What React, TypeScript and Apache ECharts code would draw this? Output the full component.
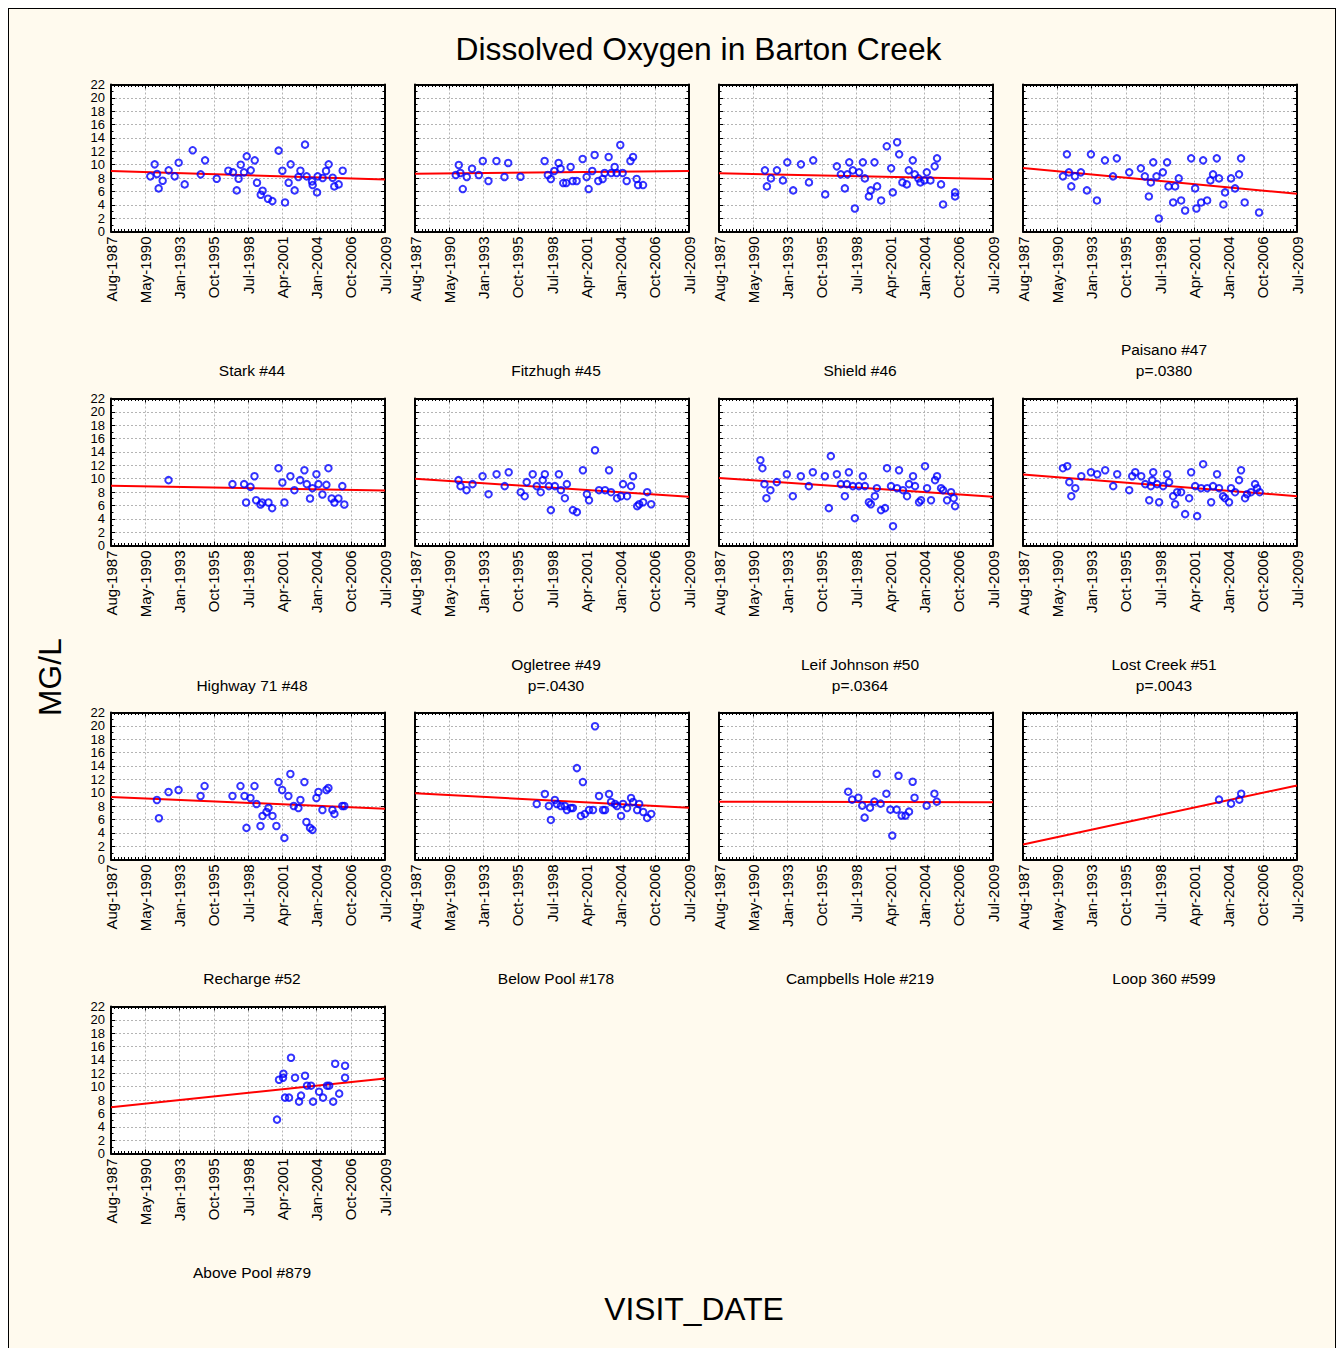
import React, { useEffect, useRef } from "react";
import * as echarts from "echarts";

// ---------- data ----------
const TICK_LABELS = ["Aug-1987", "May-1990", "Jan-1993", "Oct-1995", "Jul-1998", "Apr-2001", "Jan-2004", "Oct-2006", "Jul-2009"];
const START_YEAR = 1987.6; // Aug-1987 (first tick)
const TICK_DAYS = 1000;

const STATIONS = [
  "Stark #44", "Fitzhugh #45", "Shield #46", "Paisano #47",
  "Highway 71 #48", "Ogletree #49", "Leif Johnson #50", "Lost Creek #51",
  "Recharge #52", "Below Pool #178", "Campbells Hole #219", "Loop 360 #599",
  "Above Pool #879",
];
const P_VALUES = ["", "", "", "p=.0380", "", "p=.0430", "p=.0364", "p=.0043", "", "", "", "", ""];

// fitted line value at first (Aug-1987) and last (Jul-2009) tick
const FIT_START = [9.05, 8.65, 8.7, 9.5, 8.93, 10.0, 10.1, 10.62, 9.35, 9.9, 8.66, 2.24, 6.92];
const FIT_END = [7.8, 9.05, 7.85, 5.65, 8.23, 7.28, 7.28, 7.38, 7.61, 7.76, 8.56, 11.09, 11.24];

// [decimal year, mg/L]
const stark = [[1990.74,8.25],[1991.09,10.05],[1991.28,8.6],[1991.41,6.45],[1991.73,7.6],[1992.21,9.15],[1992.69,8.25],[1993.01,10.3],[1993.49,7.05],[1994.13,12.15],[1994.77,8.55],[1995.12,10.65],[1996.05,7.9],[1996.98,9.1],[1997.35,8.85],[1997.65,6.15],[1997.8,7.9],[1997.97,10.0],[1998.23,8.85],[1998.45,11.25],[1998.77,9.15],[1999.09,10.65],[1999.27,7.3],[1999.57,5.5],[1999.72,6.1],[2000.15,4.9],[2000.5,4.55],[2001.0,12.1],[2001.3,9.1],[2001.51,4.35],[2001.8,7.3],[2001.96,10.05],[2002.28,6.15],[2002.58,8.15],[2002.74,9.1],[2003.11,13.0],[2003.24,8.25],[2003.67,7.5],[2003.72,6.95],[2004.07,5.85],[2004.12,8.25],[2004.52,8.0],[2004.79,9.05],[2005.0,10.05],[2005.32,8.05],[2005.45,6.75],[2005.8,7.05],[2006.12,9.1]];
const fitzhugh = [[1990.86,8.45],[1991.1,9.95],[1991.23,8.75],[1991.42,6.35],[1991.74,8.15],[1992.16,9.4],[1992.7,8.45],[1993.02,10.55],[1993.47,7.55],[1994.11,10.55],[1994.75,8.15],[1995.05,10.25],[1996.03,8.2],[1997.96,10.55],[1998.22,8.45],[1998.46,7.85],[1998.73,9.05],[1999.08,10.25],[1999.24,9.4],[1999.45,7.25],[1999.69,7.25],[2000.04,9.65],[2000.2,7.55],[2000.52,7.55],[2001.0,10.85],[2001.32,8.15],[2001.48,6.35],[2001.77,9.05],[2001.96,11.45],[2002.25,7.55],[2002.6,7.85],[2002.76,8.75],[2003.08,11.15],[2003.29,8.75],[2003.56,9.65],[2003.72,8.75],[2004.01,12.95],[2004.2,8.75],[2004.52,7.55],[2004.82,10.55],[2005.03,11.15],[2005.32,7.85],[2005.43,6.95],[2005.83,6.95]];
const shield = [[1991.27,9.15],[1991.43,6.75],[1991.75,7.95],[1992.23,9.15],[1992.71,7.65],[1993.06,10.35],[1993.53,6.15],[1994.15,10.05],[1994.79,7.35],[1995.13,10.65],[1996.09,5.55],[1997.02,9.75],[1997.34,8.55],[1997.66,6.45],[1997.85,8.55],[1998.01,10.35],[1998.3,9.15],[1998.46,3.45],[1998.8,8.85],[1999.1,10.35],[1999.26,7.95],[1999.58,5.25],[1999.73,6.15],[2000.03,10.35],[2000.24,6.75],[2000.56,4.65],[2001.01,12.75],[2001.36,9.45],[2001.49,5.85],[2001.84,13.35],[2002.0,11.55],[2002.26,7.35],[2002.61,7.05],[2002.77,9.15],[2003.09,10.65],[2003.25,8.55],[2003.54,7.95],[2003.7,7.35],[2004.02,7.65],[2004.21,8.85],[2004.5,7.65],[2004.84,9.75],[2005.03,10.95],[2005.35,7.05],[2005.51,4.05],[2006.47,5.85],[2006.47,5.25]];
const paisano = [[1990.79,8.25],[1991.11,11.55],[1991.27,8.85],[1991.46,6.75],[1991.75,8.25],[1992.23,8.85],[1992.71,6.15],[1993.03,11.55],[1993.51,4.65],[1994.15,10.65],[1994.79,8.25],[1995.1,10.95],[1996.09,8.85],[1997.02,9.45],[1997.34,8.25],[1997.66,5.25],[1997.82,7.35],[1998.01,10.35],[1998.27,8.25],[1998.46,1.95],[1998.78,8.85],[1999.12,10.35],[1999.23,6.75],[1999.6,4.35],[1999.76,6.75],[2000.05,7.95],[2000.24,4.65],[2000.56,3.15],[2001.04,10.95],[2001.36,6.45],[2001.46,3.45],[2001.84,4.35],[2002.0,10.65],[2002.32,4.65],[2002.58,7.65],[2002.79,8.55],[2003.09,10.95],[2003.27,7.95],[2003.62,4.05],[2003.75,5.85],[2004.23,7.95],[2004.55,6.45],[2004.87,8.55],[2005.03,10.95],[2005.32,4.35],[2006.47,2.85]];
const highway71 = [[1992.2,9.78],[1997.31,9.18],[1998.24,9.18],[1998.4,6.43],[1998.75,8.78],[1999.07,10.37],[1999.2,6.78],[1999.55,6.13],[1999.68,6.43],[2000.19,6.43],[2000.48,5.59],[2000.99,11.57],[2001.3,9.43],[2001.46,6.43],[2001.94,10.37],[2002.26,8.28],[2002.72,9.78],[2003.06,11.27],[2003.25,9.18],[2003.51,7.03],[2003.7,8.58],[2004.02,10.67],[2004.18,9.18],[2004.5,7.63],[2004.82,9.08],[2004.98,11.57],[2005.24,7.03],[2005.46,6.43],[2005.78,7.03],[2006.09,8.88],[2006.25,6.13]];
const ogletree = [[1991.08,9.78],[1991.24,8.88],[1991.72,8.28],[1992.2,9.18],[1993.0,10.37],[1993.48,7.68],[1994.12,10.67],[1994.77,8.88],[1995.09,10.97],[1996.05,7.98],[1996.37,7.38],[1996.53,9.48],[1997.01,10.67],[1997.33,8.88],[1997.65,7.98],[1997.81,9.78],[1997.98,10.67],[1998.3,8.88],[1998.46,5.29],[1998.78,8.88],[1999.1,10.67],[1999.26,8.28],[1999.58,7.08],[1999.74,9.18],[2000.22,5.29],[2000.54,4.99],[2001.02,11.27],[2001.34,7.68],[2001.51,6.78],[2001.99,14.26],[2002.31,8.28],[2002.79,8.28],[2003.11,11.27],[2003.27,7.98],[2003.75,7.08],[2004.07,7.38],[2004.23,9.18],[2004.55,7.38],[2004.87,8.88],[2005.03,10.37],[2005.36,5.89],[2005.52,6.18],[2005.84,6.48],[2006.16,7.98],[2006.48,6.18]];
const leifJohnson = [[1990.91,12.77],[1991.07,11.57],[1991.23,9.18],[1991.39,7.08],[1991.71,8.28],[1992.22,9.48],[1993.02,10.67],[1993.5,7.38],[1994.14,10.37],[1994.78,8.88],[1995.1,10.97],[1996.06,10.37],[1996.38,5.59],[1996.54,13.37],[1997.02,10.67],[1997.34,9.18],[1997.66,7.38],[1997.82,9.18],[1997.98,10.97],[1998.3,8.88],[1998.46,4.09],[1998.78,8.88],[1999.1,10.37],[1999.26,8.88],[1999.58,6.48],[1999.74,6.18],[2000.06,7.38],[2000.22,8.58],[2000.55,5.29],[2000.87,5.59],[2001.03,11.57],[2001.35,8.88],[2001.51,2.89],[2001.83,8.58],[2001.99,11.27],[2002.31,8.28],[2002.63,7.38],[2002.79,9.18],[2003.11,10.37],[2003.27,8.88],[2003.59,6.48],[2003.75,6.78],[2004.07,11.87],[2004.23,8.58],[2004.55,6.78],[2004.87,9.78],[2005.03,10.37],[2005.35,8.58],[2005.51,8.28],[2005.83,6.78],[2006.15,7.98],[2006.36,7.08],[2006.47,5.89]];
const lostCreek = [[1990.79,11.57],[1991.14,11.87],[1991.3,9.48],[1991.46,7.38],[1991.78,8.58],[1992.26,10.37],[1993.03,10.97],[1993.53,10.67],[1994.17,11.27],[1994.81,8.88],[1995.13,10.67],[1996.09,8.28],[1996.33,10.37],[1996.57,10.97],[1997.05,10.37],[1997.37,9.18],[1997.69,6.78],[1997.82,8.88],[1997.93,9.78],[1998.01,10.97],[1998.32,9.18],[1998.48,6.48],[1998.8,8.88],[1999.12,10.67],[1999.28,9.48],[1999.6,7.38],[1999.76,6.18],[1999.92,7.98],[2000.24,7.98],[2000.56,4.69],[2000.88,7.08],[2001.04,10.97],[2001.36,8.88],[2001.52,4.39],[2001.84,8.58],[2002.0,12.17],[2002.32,8.58],[2002.64,6.48],[2002.79,8.88],[2003.11,10.67],[2003.27,8.58],[2003.59,7.38],[2003.75,7.08],[2004.07,6.48],[2004.23,8.58],[2004.55,7.98],[2004.87,9.78],[2005.03,11.27],[2005.35,7.08],[2005.51,7.68],[2005.83,7.98],[2006.15,9.18],[2006.31,8.58],[2006.52,7.98]];
const recharge = [[1991.27,8.91],[1991.43,6.17],[1992.2,10.1],[1993.0,10.4],[1994.76,9.5],[1995.08,10.99],[1997.31,9.5],[1997.95,10.99],[1998.27,9.5],[1998.43,4.73],[1998.75,9.2],[1999.07,10.99],[1999.23,8.31],[1999.55,5.02],[1999.71,6.52],[2000.03,7.11],[2000.19,7.71],[2000.51,6.52],[2000.82,5.02],[2000.99,11.59],[2001.28,10.4],[2001.46,3.23],[2001.78,9.5],[2001.94,12.79],[2002.21,8.01],[2002.58,7.71],[2002.74,8.91],[2003.06,11.59],[2003.22,5.62],[2003.51,4.73],[2003.7,4.43],[2004.02,9.2],[2004.18,10.1],[2004.5,7.41],[2004.82,10.4],[2004.98,10.7],[2005.3,7.41],[2005.46,6.82],[2006.09,8.01],[2006.25,8.01]];
const belowPool = [[1997.33,8.31],[1997.98,9.8],[1998.3,8.01],[1998.46,5.92],[1998.78,8.91],[1998.94,8.31],[1999.26,8.01],[1999.58,8.01],[1999.74,7.41],[2000.06,7.71],[2000.22,7.71],[2000.54,13.68],[2000.86,6.52],[2001.02,11.59],[2001.18,6.82],[2001.51,7.41],[2001.83,7.41],[2001.99,19.95],[2002.31,9.5],[2002.63,7.41],[2002.79,7.41],[2003.11,9.8],[2003.27,8.61],[2003.59,8.31],[2003.75,8.01],[2004.07,6.52],[2004.23,8.31],[2004.55,7.71],[2004.87,9.2],[2005.03,8.61],[2005.36,7.41],[2005.52,8.31],[2005.84,7.11],[2006.16,6.22],[2006.48,6.82]];
const campbellsHole = [[1997.93,10.15],[1998.24,8.96],[1998.74,9.25],[1999.05,8.06],[1999.24,6.27],[1999.67,7.76],[2000.02,8.66],[2000.2,12.84],[2000.52,8.36],[2000.98,9.85],[2001.3,7.46],[2001.45,3.58],[2001.8,7.46],[2001.95,12.54],[2002.2,6.57],[2002.51,6.57],[2002.79,7.16],[2003.08,11.64],[2003.23,9.25],[2004.2,8.06],[2004.82,9.85],[2005.01,8.66]];
const loop360 = [[2003.27,8.96],[2004.23,8.36],[2004.89,8.96],[2005.04,9.85]];
const abovePool = [[2000.87,5.07],[2001.03,11.04],[2001.35,11.34],[2001.38,11.94],[2001.51,8.36],[2001.83,8.36],[2001.99,14.33],[2002.31,11.34],[2002.63,7.76],[2002.79,8.66],[2003.11,11.64],[2003.27,10.15],[2003.59,10.15],[2003.75,7.76],[2004.23,9.25],[2004.55,8.36],[2004.87,10.15],[2005.04,10.15],[2005.36,7.76],[2005.52,13.43],[2005.84,8.96],[2006.31,13.13],[2006.31,11.34]];

const SAMPLES = [stark, fitzhugh, shield, paisano, highway71, ogletree, leifJohnson, lostCreek, recharge, belowPool, campbellsHole, loop360, abovePool];

// ---------- layout ----------
const FONT = "'Liberation Sans', Arial, Helvetica, sans-serif";
const COL_LEFT = [102, 406, 710, 1014];
const ROW_TOP = [75.5, 389.5, 703.5, 997.5];
const PW = 274;
const PH = 147;
const TITLE_Y = [361, 676, 969, 1263];

const toDays = (yr: number) => (yr - START_YEAR) * 365.25;
const X_MAX = TICK_DAYS * (TICK_LABELS.length - 1);

function buildOption() {
  const grid: any[] = [];
  const xAxis: any[] = [];
  const yAxis: any[] = [];
  const series: any[] = [];
  const graphic: any[] = [];

  const line = { show: true, onZero: false, lineStyle: { color: "#000", width: 2 } };
  const tick = { show: true, inside: true, length: 4, lineStyle: { color: "#000", width: 1 } };
  const split = { show: true, lineStyle: { color: "#b4b4b4", width: 1, type: [2, 2] } };

  SAMPLES.forEach((pts, i) => {
    const col = i % 4;
    const row = Math.floor(i / 4);
    const left = COL_LEFT[col];
    const top = ROW_TOP[row];
    grid.push({ left, top, width: PW, height: PH, show: true, backgroundColor: "#ffffff", borderWidth: 0, containLabel: false, outerBoundsMode: "none" });

    const xBase = { type: "value", gridIndex: i, min: 0, max: X_MAX, interval: TICK_DAYS, axisLine: line, axisTick: tick,
      minorTick: { show: true, splitNumber: 10, length: 2.5, lineStyle: { color: "#000", width: 1 } } };
    xAxis.push({ ...xBase, position: "bottom", splitLine: split,
      axisLabel: { show: true, rotate: 90, margin: 5, fontSize: 15, color: "#000", fontFamily: FONT, hideOverlap: false,
        showMinLabel: true, showMaxLabel: true,
        formatter: (v: number) => TICK_LABELS[Math.round(v / TICK_DAYS)] ?? "" } });
    xAxis.push({ ...xBase, position: "top", splitLine: { show: false }, axisLabel: { show: false } });

    const yBase = { type: "value", gridIndex: i, min: 0, max: 22, interval: 2, axisLine: line, axisTick: tick,
      minorTick: { show: true, splitNumber: 2, length: 2.5, lineStyle: { color: "#000", width: 1 } } };
    yAxis.push({ ...yBase, position: "left", splitLine: split,
      axisLabel: { show: col === 0, margin: 6, fontSize: 13, lineHeight: 13, color: "#000", fontFamily: FONT, hideOverlap: false,
        showMinLabel: true, showMaxLabel: true } });
    yAxis.push({ ...yBase, position: "right", splitLine: { show: false }, axisLabel: { show: false } });

    series.push({ type: "line", xAxisIndex: 2 * i, yAxisIndex: 2 * i, symbol: "none", silent: true, z: 3,
      lineStyle: { color: "#ff0000", width: 2 }, data: [[0, FIT_START[i]], [X_MAX, FIT_END[i]]] });
    series.push({ type: "scatter", xAxisIndex: 2 * i, yAxisIndex: 2 * i, symbol: "circle", symbolSize: 6.5, z: 4,
      itemStyle: { color: "rgba(255,255,255,0)", borderColor: "#0000ff", borderWidth: 2 },
      data: pts.map(([yr, v]) => [toDays(yr), v]) });

    const cx = left + PW / 2 + 4;
    const ty = TITLE_Y[row];
    const txtStyle = { fontSize: 15.5, fontFamily: FONT, fill: "#000", align: "center", verticalAlign: "middle" };
    if (P_VALUES[i]) {
      graphic.push({ type: "text", x: cx, y: ty - 21, style: { ...txtStyle, text: STATIONS[i] } });
      graphic.push({ type: "text", x: cx, y: ty, style: { ...txtStyle, text: P_VALUES[i] } });
    } else {
      graphic.push({ type: "text", x: cx, y: ty, style: { ...txtStyle, text: STATIONS[i] } });
    }
  });

  const big = { fontSize: 31.8, fontFamily: FONT, fill: "#000", align: "center", verticalAlign: "middle" };
  graphic.push({ type: "text", x: 689.5, y: 40, style: { ...big, text: "Dissolved Oxygen in Barton Creek" } });
  graphic.push({ type: "text", x: 685, y: 1300, style: { ...big, text: "VISIT_DATE" } });
  graphic.push({ type: "text", x: 41, y: 668, rotation: Math.PI / 2, style: { ...big, text: "MG/L" } });

  return { animation: false, backgroundColor: "transparent", grid, xAxis, yAxis, series, graphic };
}

export default function App() {
  const ref = useRef<HTMLDivElement>(null);
  useEffect(() => {
    if (!ref.current) return;
    const chart = echarts.init(ref.current, undefined, { renderer: "svg" });
    chart.setOption(buildOption() as any);
    return () => chart.dispose();
  }, []);
  return (
    <div style={{ width: 1328, height: 1340, boxSizing: "border-box", background: "#fffaee",
      borderLeft: "1px solid #000", borderTop: "1px solid #000", borderRight: "1px solid #000" }}>
      <div ref={ref} style={{ width: 1326, height: 1339 }} />
    </div>
  );
}
